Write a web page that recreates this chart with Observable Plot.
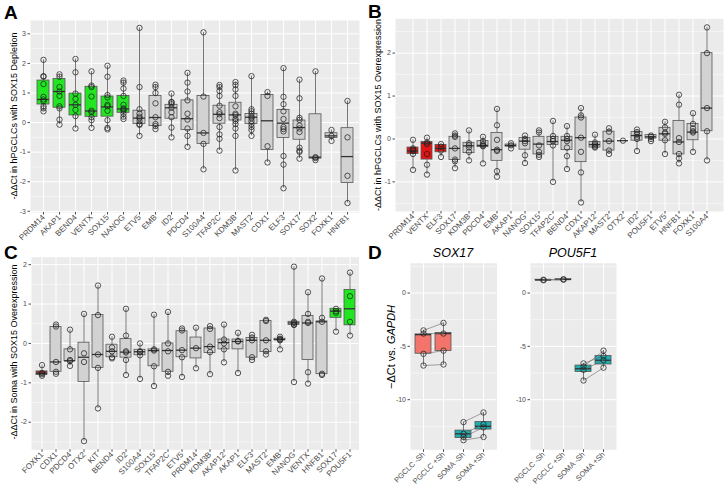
<!DOCTYPE html>
<html><head><meta charset="utf-8">
<script src="https://cdn.jsdelivr.net/npm/d3@7"></script>
<script src="https://cdn.jsdelivr.net/npm/@observablehq/plot@0.6"></script>
<style>
body{margin:0;background:#fff;}
#wrap{position:relative;width:728px;height:486px;overflow:hidden;font-family:"Liberation Sans",Arial,sans-serif;background:#fff;}
.p{position:absolute;}
.lab{position:absolute;white-space:nowrap;transform:translate(-50%,-50%) rotate(-90deg);font-size:9px;color:#000;}
.labD{position:absolute;white-space:nowrap;transform:translate(-50%,-50%) rotate(-90deg);font-size:11px;color:#000;}
.let{position:absolute;font-weight:bold;font-size:19px;line-height:1;color:#000;}
.ft{position:absolute;font-style:italic;font-size:12.5px;line-height:1;transform:translateX(-50%);color:#000;}
</style></head>
<body><div id="wrap"></div>
<script>
// ---------- Panel A ----------
const catsA = ["PRDM14","AKAP1","BEND4","VENTX","SOX15","NANOG","ETV5","EMB","ID2","PDCD4","S100A4","TFAP2C","KDM3B","MAST2","CDX1","ELF3","SOX17","SOX2","FOXK1","HNFB1"];
const greenA = ["PRDM14","AKAP1","BEND4","VENTX","SOX15","NANOG"];
const q1A  = [0.61,0.50,0.24,0.19,0.20,0.33,-0.05,-0.12,0.13,-0.25,-0.72,-0.04,0.07,-0.05,-0.93,-0.52,-0.58,-1.22,-0.52,-2.04];
const medA = [0.78,1.05,0.60,0.39,0.53,0.46,0.15,0.17,0.50,0.13,-0.35,0.28,0.26,0.18,0.06,-0.02,-0.17,-1.17,-0.45,-1.15];
const q3A  = [1.42,1.47,0.98,1.21,0.88,0.90,0.40,0.90,0.60,0.75,0.90,0.57,0.67,0.29,0.93,0.43,0.07,0.28,-0.36,-0.19];
const ptsA = [
 [2.12,1.57,1.55,1.3,0.87,0.78,0.72,0.55,0.48,0.38],
 [1.63,1.55,1.2,1.05,0.9,0.55,0.48,0.1,-0.07],
 [2.15,1.7,0.98,0.8,0.6,0.43,0.22,-0.2],
 [1.73,1.25,1.2,0.88,0.4,0.35,0.18,0.08,-0.18],
 [1.92,1.55,0.93,0.85,0.6,0.55,0.4,0.08,-0.18,-0.23],
 [1.42,1.35,1.15,0.9,0.6,0.48,0.45,0.4,0.3,0.2,0.12],
 [3.2,1.2,0.45,0.3,0.2,0.15,0.05,-0.05,-0.08,-0.45],
 [1.28,1.2,1.0,0.65,0.18,-0.05,-0.12,-0.22],
 [0.98,0.7,0.68,0.62,0.5,0.35,0.18,-0.17,-0.5],
 [1.68,1.35,1.05,0.75,0.3,0.1,-0.2,-0.45,-0.82],
 [3.05,0.88,-0.35,-0.72,-1.58],
 [1.27,1.2,1.07,0.9,0.57,0.35,0.28,0.15,-0.15,-0.4,-0.55,-0.95],
 [1.37,1.27,1.12,0.9,0.55,0.3,0.25,0.12,0.05,-0.05,-0.2,-0.45,-1.62],
 [1.57,0.45,0.38,0.3,0.2,0.15,0.05,-0.05,-0.15,-0.25,-0.45],
 [1.03,0.9,-0.8,-1.35],
 [1.84,0.87,0.62,0.38,0.12,-0.15,-0.22,-0.3,-1.13,-1.42,-2.22],
 [1.45,0.82,0.16,0.09,-0.1,-0.2,-0.32,-0.85,-0.95,-0.99,-1.22],
 [1.73,-1.17,-1.2,-1.27],
 [-0.25,-0.45,-0.62],
 [0.73,-0.5,-1.8,-2.72]
];
const yTicksA = [-3,-2,-1,0,1,2,3];
const yMinorA = [-2.5,-1.5,-0.5,0.5,1.5,2.5];

// ---------- Panel B ----------
const catsB = ["PRDM14","VENTX","ELF3","SOX17","KDM3B","PDCD4","EMB","AKAP1","NANOG","SOX15","TFAP2C","BEND4","CDX1","AKAP12","MAST2","OTX2","ID2","POU5F1","ETV5","HNFB1","FOXK1","S100A4"];
const redB = ["PRDM14","VENTX","ELF3"];
const q1B  = [-0.35,-0.48,-0.31,-0.49,-0.33,-0.19,-0.51,-0.18,-0.25,-0.36,-0.14,-0.26,-0.54,-0.20,-0.27,-0.04,-0.04,0.01,-0.04,-0.36,-0.03,0.18];
const medB = [-0.28,-0.10,-0.22,-0.22,-0.16,-0.15,-0.25,-0.15,-0.05,-0.12,-0.06,-0.03,0.03,-0.13,-0.05,-0.04,0.08,0.05,0.12,-0.07,0.16,0.72];
const q3B  = [-0.20,-0.07,-0.14,0.05,-0.09,-0.05,0.14,-0.13,0.02,0.05,0.05,0.05,0.50,-0.07,0.17,-0.04,0.16,0.09,0.26,0.42,0.35,2.0];
const ptsB = [
 [-0.02,-0.22,-0.25,-0.28,-0.35,-0.72],
 [0.03,-0.08,-0.12,-0.35,-0.6,-0.83],
 [-0.12,-0.18,-0.27,-0.42],
 [0.13,0.08,0.05,-0.22,-0.48,-0.52,-0.68],
 [0.2,-0.1,-0.15,-0.2,-0.3,-0.5],
 [0.05,-0.05,-0.12,-0.15,-0.17,-0.57],
 [0.7,0.32,-0.02,-0.25,-0.28,-0.75,-0.88],
 [-0.1,-0.15,-0.22],
 [0.08,0.0,-0.05,-0.1,-0.38,-0.56],
 [0.2,0.15,-0.15,-0.3,-0.37,-0.42],
 [0.42,0.07,0.0,-0.05,-0.15,-1.0],
 [0.3,0.07,0.0,-0.05,-0.2,-0.4,-0.7],
 [0.72,0.55,0.5,0.03,-0.3,-0.78,-1.48],
 [0.1,-0.08,-0.12,-0.15,-0.18,-0.2],
 [0.25,0.17,-0.05,-0.27,-0.35],
 [-0.04],
 [0.22,0.16,0.1,0.05,0.0,-0.28],
 [0.08,0.05,0.0,-0.05],
 [0.4,0.27,0.15,0.12,-0.03,-0.35],
 [1.03,0.8,0.02,-0.07,-0.35,-0.45,-0.57],
 [0.6,0.35,0.25,0.18,0.15,-0.3],
 [2.6,2.0,0.72,0.18,-0.5]
];
const yTicksB = [-1,0,1,2];
const yMinorB = [-1.5,-0.5,0.5,1.5,2.5];

// ---------- Panel C ----------
const catsC = ["FOXK1","CDX1","PDCD4","OTX2","KIT","BEND4","ID2","S100A4","SOX15","TFAP2C","ETV5","PRDM14","KDM3B","AKAP12","AKAP1","ELF3","MAST2","EMB","NANOG","VENTX","HNFB1","SOX17","POU5F1"];
const redC = ["FOXK1"];
const greenC = ["SOX17","POU5F1"];
const q1C  = [-0.80,-0.72,-0.45,-0.98,-0.62,-0.35,-0.36,-0.30,-0.58,-0.72,-0.35,-0.38,-0.24,-0.15,-0.15,-0.36,-0.22,0.08,0.47,-0.42,-0.78,0.65,0.46];
const medC = [-0.76,-0.47,-0.44,-0.35,-0.28,-0.20,-0.22,-0.21,-0.18,-0.18,-0.17,-0.12,-0.08,0.02,0.05,0.08,0.08,0.10,0.52,0.52,0.55,0.82,0.88];
const q3C  = [-0.71,0.42,-0.15,0.02,0.72,-0.03,0.11,-0.16,-0.15,0.0,0.31,0.15,0.38,0.10,0.10,0.14,0.57,0.12,0.55,0.70,0.56,0.88,1.36];
const ptsC = [
 [-0.55,-0.75,-0.78,-0.82],
 [0.48,0.43,-0.47,-0.72,-0.77],
 [0.35,-0.15,-0.42,-0.45,-0.57],
 [0.75,-0.25,-0.47,-2.48],
 [1.47,0.72,-0.28,-0.62,-1.65],
 [0.17,-0.1,-0.2,-0.35,-0.38],
 [0.88,0.2,-0.2,-0.23,-0.42,-0.8],
 [0.0,-0.2,-0.22,-0.3,-0.9],
 [0.73,-0.15,-0.18,-0.58,-1.08],
 [0.8,0.0,-0.2,-0.72,-0.82],
 [0.38,0.33,-0.17,-0.35,-0.85],
 [0.4,-0.12,-0.63],
 [0.44,0.37,-0.08,-0.22,-0.78],
 [0.48,0.1,0.0,-0.15,-0.48],
 [0.27,0.06,0.05,-0.75],
 [0.22,0.15,0.08,-0.35,-0.42],
 [0.6,0.57,0.08,-0.2,-0.28],
 [0.17,0.12,0.1,0.08,-0.15],
 [1.95,0.55,0.52,0.48,0.47,-0.98],
 [1.3,0.75,0.55,0.52,-0.73,-1.02],
 [1.65,0.65,0.55,-0.77,-0.8],
 [0.88,0.82,0.78,0.3],
 [1.8,1.2,0.55,0.2]
];
const yTicksC = [-2,-1,0,1,2];
const yMinorC = [-2.5,-1.5,-0.5,0.5,1.5];

// ---------- Panel D ----------
const groupsD = ["PGCLC -Sh","PGCLC +Sh","SOMA -Sh","SOMA +Sh"];
const cellD = ["PGCLC","PGCLC","SOMA","SOMA"];
const sox17Pts = [[-3.5,-3.8,-5.7,-6.8],[-2.8,-3.8,-5.4,-6.7],[-12.1,-13.2,-13.5,-13.8],[-11.2,-12.3,-12.6,-13.5]];
const sox17Q1  = [-5.69,-5.44,-13.6,-12.8];
const sox17Med = [-3.9,-3.8,-13.2,-12.5];
const sox17Q3  = [-3.88,-3.75,-12.9,-12.1];
const pouPts = [[1.25,1.2],[1.3,1.25],[-6.6,-6.9,-7.2,-8.2],[-5.9,-5.4,-6.3,-7.0]];
const pouQ1  = [1.2,1.25,-7.4,-6.7];
const pouMed = [1.22,1.27,-7.1,-6.3];
const pouQ3  = [1.25,1.3,-6.8,-5.9];
const yTicksD = [-10,-5,0];
const yMinorD = [-12.5,-7.5,-2.5,2.5];

const FONT = "Liberation Sans, Arial, sans-serif";

function boxPlot(o) {
  const table = o.cats.map((c, i) => ({cat: c, q1: o.q1[i], med: o.med[i], q3: o.q3[i],
    lo: d3.min(o.pts[i]), hi: d3.max(o.pts[i]), fill: o.fill(c, i)}));
  const pts = o.cats.flatMap((c, i) => o.pts[i].map((v, j) => ({cat: c, v, pair: (o.pair ? o.pair[i] : c) + "-" + j})));
  const marks = [
    Plot.frame({fill: "#ebebeb", stroke: "none"}),
    Plot.ruleY(o.minor, {stroke: "#fff", strokeWidth: 0.5}),
    Plot.ruleY(o.major, {stroke: "#fff", strokeWidth: 1}),
    Plot.ruleX(o.cats, {x: d => d, stroke: "#fff", strokeWidth: 1}),
    Plot.ruleX(table, {x: "cat", y1: "lo", y2: "hi", stroke: "#555", strokeWidth: 0.8}),
    Plot.barY(table, {x: "cat", y1: "q1", y2: "q3", fill: "fill", stroke: "#555", strokeWidth: 0.8}),
    Plot.tickY(table, {x: "cat", y: "med", stroke: "#333", strokeWidth: 1.3})
  ];
  if (o.pair) marks.push(Plot.line(pts, {x: "cat", y: "v", z: "pair", stroke: "#666", strokeWidth: 0.6}));
  marks.push(
    Plot.dot(pts, {x: "cat", y: "v", r: 2.7, stroke: "#222", strokeWidth: 0.75, fill: "none"}),
    Plot.axisX({tickRotate: -45, tickSize: 2.5, tickPadding: 1, fontSize: o.xfs || 8}),
    Plot.axisY({ticks: o.major, tickSize: 2.5, tickPadding: 2, fontSize: 7, tickFormat: d => String(d)})
  );
  return Plot.plot({
    width: o.width, height: o.height,
    marginLeft: o.ml, marginRight: o.mr, marginTop: o.mt, marginBottom: o.mb,
    style: {background: "transparent", fontFamily: FONT, color: "#4d4d4d", overflow: "visible"},
    x: {domain: o.cats, paddingInner: o.pi, paddingOuter: o.po, align: 0.5, label: null},
    y: {domain: o.yDomain, label: null},
    color: {type: "identity"},
    marks
  });
}

const wrap = document.getElementById("wrap");
function place(node, left, top) { node.classList.add("p"); node.style.left = left + "px"; node.style.top = top + "px"; wrap.appendChild(node); }
function html(cls, text, left, top) { const d = document.createElement("div"); d.className = cls; d.innerHTML = text; d.style.left = left + "px"; d.style.top = top + "px"; wrap.appendChild(d); }

const GREEN = "#22e622", RED = "#e41414", DRED = "#a83232", GREY = "#d2d2d2", SALMON = "#f3746b", TEAL = "#1fafb2";

place(boxPlot({cats: catsA, q1: q1A, med: medA, q3: q3A, pts: ptsA,
  fill: c => greenA.includes(c) ? GREEN : GREY,
  yDomain: [-3.04, 3.45], major: yTicksA, minor: yMinorA,
  width: 364, height: 240, ml: 30, mr: 5, mt: 20, mb: 28, pi: 0.25, po: 0.225}), 0, 0);

place(boxPlot({cats: catsB, q1: q1B, med: medB, q3: q3B, pts: ptsB,
  fill: c => redB.includes(c) ? RED : GREY,
  yDomain: [-1.69, 2.8], major: yTicksB, minor: yMinorB,
  width: 364, height: 240, ml: 31, mr: 5, mt: 18.3, mb: 29, pi: 0.25, po: 0.225}), 364, 0);

place(boxPlot({cats: catsC, q1: q1C, med: medC, q3: q3C, pts: ptsC,
  fill: c => redC.includes(c) ? DRED : greenC.includes(c) ? GREEN : GREY,
  yDomain: [-2.7, 2.19], major: yTicksC, minor: yMinorC,
  width: 364, height: 246, ml: 31, mr: 5.5, mt: 16.7, mb: 36.7, pi: 0.25, po: 0.225}), 0, 240);

place(boxPlot({cats: groupsD, q1: sox17Q1, med: sox17Med, q3: sox17Q3, pts: sox17Pts, pair: cellD,
  fill: (c, i) => cellD[i] === "PGCLC" ? SALMON : TEAL,
  yDomain: [-14.7, 2.8], major: yTicksD, minor: yMinorD, xfs: 7.5,
  width: 136, height: 246, ml: 46, mr: 3.5, mt: 22.7, mb: 36.7, pi: 0.22, po: 0.21}), 364, 240);

place(boxPlot({cats: groupsD, q1: pouQ1, med: pouMed, q3: pouQ3, pts: pouPts, pair: cellD,
  fill: (c, i) => cellD[i] === "PGCLC" ? SALMON : TEAL,
  yDomain: [-14.7, 2.8], major: yTicksD, minor: yMinorD, xfs: 7.5,
  width: 120, height: 246, ml: 30, mr: 4, mt: 22.7, mb: 36.7, pi: 0.22, po: 0.21}), 500, 240);

html("let", "A", 4, 3);
html("let", "B", 368, 2);
html("let", "C", 4, 243);
html("let", "D", 368, 243);
html("lab", "-&Delta;&Delta;Ct in hPGCLCs with SOX15 Depletion", 14, 116);
html("lab", "-&Delta;&Delta;Ct in hPGCLCs with SOX15 Overexpression", 378, 115);
html("lab", "-&Delta;&Delta;Ct in Soma with SOX15 Overexpression", 14, 352);
html("labD", "&minus;&Delta;Ct vs. <i>GAPDH</i>", 391, 347);
html("ft", "SOX17", 453, 247);
html("ft", "POU5F1", 573, 247);
</script></body></html>
